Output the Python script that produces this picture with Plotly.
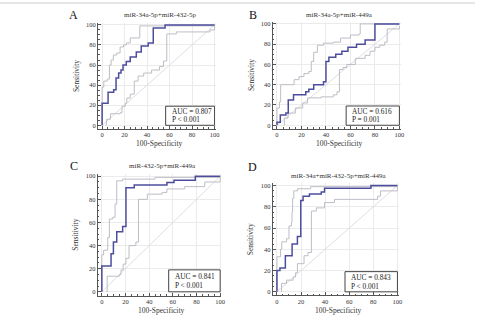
import plotly.graph_objects as go

# ---------------- data ----------------
titles = ["miR-34a-5p+miR-432-5p", "miR-34a-5p+miR-449a",
          "miR-432-5p+miR-449a", "miR-34a+miR-432-5p+miR-449a"]
letters = ["A", "B", "C", "D"]
auc_vals = ["0.807", "0.616", "0.841", "0.843"]
p_texts = ["P < 0.001", "P = 0.001", "P < 0.001", "P < 0.001"]
tick_vals = [0, 20, 40, 60, 80, 100]
diag = [0, 100]

# Panel A
a_fpr = [0, 0, 5.3, 10.3, 12.4, 14.7, 16.8, 18.6, 21.5, 25, 30.4, 34.8, 41, 45.5, 56, 100]
a_tpr = [0, 22, 33, 35.5, 47, 52, 55, 60, 63.5, 68, 73, 79, 82, 97, 100, 100]
a_up_fpr = [0, 0, 1.5, 4.5, 6.5, 8, 10, 13, 16, 19, 21.5, 25, 33.5, 100]
a_up_tpr = [0, 38, 44, 46, 60, 65, 70, 72, 78, 80, 82, 87, 99, 100]
a_lo_fpr = [3.8, 3.8, 7.4, 16, 17.7, 20.6, 22, 25, 28.6, 32, 37, 44, 51, 54.6, 57.5, 66, 96, 100]
a_lo_tpr = [0, 6, 11.5, 12.5, 19, 22, 27, 31, 44, 49, 52, 55, 58.5, 64, 91, 93, 95, 100]

# Panel B
b_fpr = [0, 0, 2.7, 7.3, 9.2, 13.5, 23.5, 26, 30, 38, 40, 42.4, 48, 53, 58, 65, 72, 80, 100]
b_tpr = [0, 3, 10, 12, 25, 30, 33, 35.6, 40, 43, 63, 67, 70, 73, 77, 80, 84, 100, 100]
b_up_fpr = [0, 0, 2, 3, 11, 14, 18, 22, 26, 28, 30, 33, 38, 46, 52, 60, 67, 68, 100]
b_up_tpr = [0, 17, 23, 40, 40, 45, 48, 51, 53, 63, 72, 79, 81, 82, 86, 89, 90, 100, 100]
b_lo_fpr = [6, 6, 9, 15, 21, 25, 36, 46, 49, 51, 54, 57, 64, 72, 76, 80, 84, 88, 90, 100]
b_lo_tpr = [0, 7, 12, 17, 22, 27, 28, 30, 33, 55, 57, 60, 66, 69, 73, 77, 79, 82, 95, 98]

# Panel C
c_fpr = [0, 0, 7.8, 9.8, 12.6, 17.6, 20.4, 27.4, 55, 61, 79, 100]
c_tpr = [0, 22.3, 33, 43, 52, 56.4, 90, 92.5, 94.6, 96.6, 100, 100]
c_up_fpr = [0, 0, 1.5, 5, 6.4, 9.2, 11.2, 12.6, 17.6, 45, 100]
c_up_tpr = [0, 32, 36, 47, 63, 64.5, 76, 96, 97.5, 99, 100]
c_lo_fpr = [4.5, 4.5, 14.8, 16.2, 18, 20.4, 23, 28.8, 31, 38.5, 51, 55, 70, 87, 100]
c_lo_tpr = [0, 13.5, 15, 19, 24, 29, 40, 43, 80, 84.5, 86, 89, 91, 95, 99]

# Panel D
d_fpr = [0, 0, 2.5, 7, 12.6, 17, 19.8, 21.7, 27, 36.8, 39.5, 78, 100]
d_tpr = [0, 20, 22.4, 34, 45, 52, 86, 90, 92, 94, 97.5, 100, 100]
d_up_fpr = [0, 0, 3, 4, 8, 10, 12, 12.5, 13, 14, 17, 28, 100]
d_up_tpr = [0, 33, 40, 47, 50, 62, 65, 75, 88, 95, 97, 99, 100]
d_lo_fpr = [3.8, 3.8, 8, 13.5, 15.5, 17, 21.7, 22.5, 25.8, 28.6, 32.7, 39.5, 47.8, 83.5, 86, 100]
d_lo_tpr = [0, 8, 11, 14, 18, 26.5, 26.5, 34, 37, 76, 79, 84, 87, 90, 95, 99]

curves = [
    (a_fpr, a_tpr, a_up_fpr, a_up_tpr, a_lo_fpr, a_lo_tpr),
    (b_fpr, b_tpr, b_up_fpr, b_up_tpr, b_lo_fpr, b_lo_tpr),
    (c_fpr, c_tpr, c_up_fpr, c_up_tpr, c_lo_fpr, c_lo_tpr),
    (d_fpr, d_tpr, d_up_fpr, d_up_tpr, d_lo_fpr, d_lo_tpr),
]

# ---------------- layout geometry (pixels) ----------------
W, H = 479, 317
frames = [
    (99, 217.5, 21, 127.4),
    (275, 404, 20, 127.4),
    (98.5, 223.2, 173, 295.5),
    (275, 402, 182.6, 295.2),
]
xrange_ = [-3.5, 101]
yrange_ = [-3.3, 102]

FONT = "Liberation Serif"
BLUE = "#4d4d9e"
CI = "#bdbdc6"
DIAG = "#d6d6dc"
AXC = "#555555"

fig = go.Figure()
layout = dict(width=W, height=H, margin=dict(l=0, r=0, t=0, b=0),
              paper_bgcolor="white", plot_bgcolor="white", showlegend=False)

annotations = []
shapes = []

for i, (fr, cv) in enumerate(zip(frames, curves)):
    k = "" if i == 0 else str(i + 1)
    xa, ya = "x" + k, "y" + k
    l, r, t, b = fr
    common = dict(
        tickvals=tick_vals, ticks="inside", ticklen=3, tickcolor=AXC, tickwidth=0.8,
        minor=dict(dtick=5, tick0=0, ticks="inside", ticklen=1.5, tickcolor=AXC, showgrid=False),
        showline=True, linecolor=AXC, linewidth=1, showgrid=True, gridcolor="#ebebeb",
        gridwidth=0.7, zeroline=False, tickfont=dict(family=FONT, size=6.5, color="#333"),
        fixedrange=True)
    layout["xaxis" + k] = dict(domain=[l / W, r / W], range=xrange_, anchor=ya, **common)
    layout["yaxis" + k] = dict(domain=[(H - b) / H, (H - t) / H], range=yrange_,
                               anchor=xa, **common)

    fpr, tpr, ufpr, utpr, lfpr, ltpr = cv
    fig.add_trace(go.Scatter(x=diag, y=diag, mode="lines", xaxis=xa, yaxis=ya,
                             line=dict(color=DIAG, width=0.8), hoverinfo="skip"))
    fig.add_trace(go.Scatter(x=ufpr, y=utpr, mode="lines", xaxis=xa, yaxis=ya,
                             line=dict(color=CI, width=1, shape="hv")))
    fig.add_trace(go.Scatter(x=lfpr, y=ltpr, mode="lines", xaxis=xa, yaxis=ya,
                             line=dict(color=CI, width=1, shape="hv")))
    fig.add_trace(go.Scatter(x=fpr, y=tpr, mode="lines", xaxis=xa, yaxis=ya,
                             line=dict(color=BLUE, width=1.5, shape="hv")))

    # AUC box
    shapes.append(dict(type="rect", xref=xa, yref=ya, x0=56.5, x1=100, y0=0, y1=19,
                       line=dict(color="#444", width=1), fillcolor="white", layer="above"))
    annotations.append(dict(xref=xa, yref=ya, x=60, y=13.6, xanchor="left", yanchor="middle",
                            text="AUC = " + auc_vals[i], showarrow=False,
                            font=dict(family=FONT, size=7.3, color="#222")))
    annotations.append(dict(xref=xa, yref=ya, x=60, y=5.4, xanchor="left", yanchor="middle",
                            text=p_texts[i], showarrow=False,
                            font=dict(family=FONT, size=7.3, color="#222")))

    # panel title
    title_y = [13, 13, 165, 175][i]
    annotations.append(dict(xref="paper", yref="paper", x=((l + r) / 2 + 3) / W,
                            y=(H - title_y) / H, xanchor="center", yanchor="middle",
                            text=titles[i], showarrow=False,
                            font=dict(family=FONT, size=7, color="#333")))
    # letter
    lx, ly = [(74, 13), (255, 13), (75, 165), (255, 166)][i]
    annotations.append(dict(xref="paper", yref="paper", x=lx / W, y=(H - ly) / H,
                            xanchor="center", yanchor="middle", text=letters[i],
                            showarrow=False, font=dict(family=FONT, size=12, color="#111")))
    # axis titles
    ytx = l - 22
    annotations.append(dict(xref="paper", yref="paper", x=ytx / W, y=(H - (t + b) / 2) / H,
                            xanchor="center", yanchor="middle", text="Sensitivity",
                            textangle=-90, showarrow=False,
                            font=dict(family=FONT, size=7.5, color="#333")))
    xty = b + 15
    annotations.append(dict(xref="paper", yref="paper", x=((l + r) / 2 + 2) / W,
                            y=(H - xty) / H, xanchor="center", yanchor="middle",
                            text="100-Specificity", showarrow=False,
                            font=dict(family=FONT, size=7.5, color="#333")))

# thin top border line
shapes.append(dict(type="line", xref="paper", yref="paper", x0=0, x1=1,
                   y0=(H - 1) / H, y1=(H - 1) / H, line=dict(color="#cccccc", width=1)))

layout["annotations"] = annotations
layout["shapes"] = shapes
fig.update_layout(**layout)
fig.write_html("out.html")
